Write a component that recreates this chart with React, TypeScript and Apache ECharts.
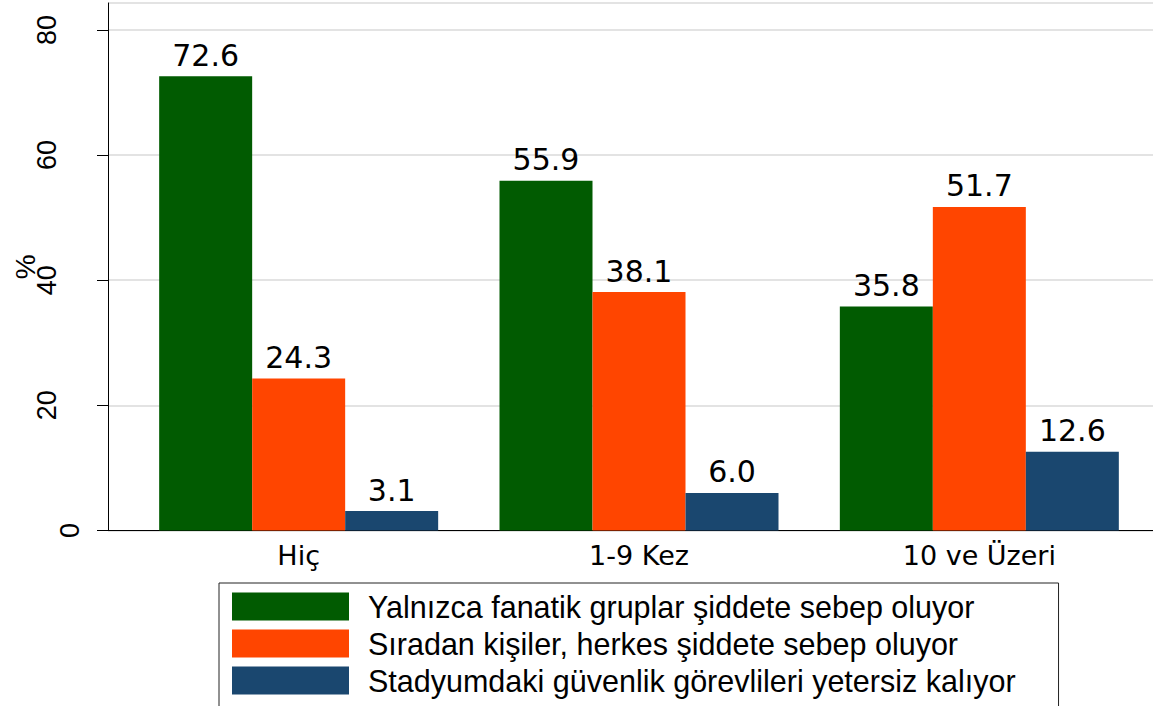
import React, { useEffect, useRef } from "react";
import * as echarts from "echarts";

const categories = ["Hiç", "1-9 Kez", "10 ve Üzeri"];
const seriesNames = [
  "Yalnızca fanatik gruplar şiddete sebep oluyor",
  "Sıradan kişiler, herkes şiddete sebep oluyor",
  "Stadyumdaki güvenlik görevlileri yetersiz kalıyor",
];
const fanaticValues = [72.6, 55.9, 35.8];
const ordinaryValues = [24.3, 38.1, 51.7];
const securityValues = [3.1, 6.0, 12.6];
const seriesColors = ["#015b01", "#ff4500", "#1a476f"];
const yMin = 0;
const yMax = 84.3;
const yInterval = 20;

const FONT = "DejaVu Sans";
const SANS = "Liberation Sans";

export default function App() {
  const ref = useRef<HTMLDivElement>(null);

  useEffect(() => {
    if (!ref.current) return;
    const chart = echarts.init(ref.current, undefined, { renderer: "svg" });
    const values = [fanaticValues, ordinaryValues, securityValues];

    const option: any = {
      animation: false,
      backgroundColor: "#ffffff",
      grid: [
        { left: 108, right: 0, top: 3, bottom: 175.5, containLabel: false, outerBoundsMode: "none" },
        { left: 128.5, right: 3.5, top: 3, bottom: 175.5, containLabel: false, outerBoundsMode: "none" },
      ],
      xAxis: [
        {
          gridIndex: 0,
          type: "value",
          min: 0,
          max: 1,
          axisLine: { show: true, onZero: false, lineStyle: { color: "#000", width: 1 } },
          axisTick: { show: false },
          axisLabel: { show: false },
          splitLine: { show: false },
        },
        {
          gridIndex: 1,
          type: "category",
          data: categories,
          axisLine: { show: false },
          axisTick: { show: false },
          axisLabel: {
            margin: 11,
            color: "#000",
            fontFamily: FONT,
            fontSize: 27,
          },
        },
      ],
      yAxis: [
        {
          gridIndex: 0,
          type: "value",
          min: yMin,
          max: yMax,
          interval: yInterval,
          name: "%",
          nameLocation: "middle",
          nameGap: 69,
          nameMoveOverlap: false,
          nameTextStyle: { color: "#000", fontFamily: SANS, fontSize: 28 },
          axisLine: { show: true, lineStyle: { color: "#000", width: 1 } },
          axisTick: { show: true, length: 11, lineStyle: { color: "#000", width: 1 } },
          axisLabel: {
            rotate: 90,
            margin: 24.5,
            color: "#000",
            fontFamily: SANS,
            fontSize: 27,
            showMaxLabel: false,
            formatter: (v: number) => (v === 0 ? "{z|0}" : "{n|" + v + "}"),
            rich: {
              z: { fontFamily: SANS, fontSize: 27, color: "#000" },
              n: { fontFamily: SANS, fontSize: 27, color: "#000", padding: [0, 0, 23, 0] },
            },
          },
          splitLine: { show: true, lineStyle: { color: "#e3e3e3", width: 2 } },
        },
        {
          gridIndex: 1,
          type: "value",
          min: yMin,
          max: yMax,
          interval: yInterval,
          show: false,
          splitLine: { show: false },
        },
      ],
      legend: {
        orient: "vertical",
        left: 219,
        top: 583,
        height: 200,
        padding: [8, 43, 30, 13],
        borderColor: "#222",
        borderWidth: 1,
        itemWidth: 117,
        itemHeight: 28,
        itemGap: 6,
        icon: "rect",
        selectedMode: false,
        data: seriesNames,
        textStyle: {
          color: "#000",
          fontFamily: SANS,
          fontSize: 30.5,
          lineHeight: 28,
          padding: [0, 0, 0, 14],
        },
      },
      series: seriesNames.map((name, i) => ({
        name,
        type: "bar",
        xAxisIndex: 1,
        yAxisIndex: 1,
        data: values[i],
        barWidth: 93,
        barGap: "0%",
        itemStyle: { color: seriesColors[i] },
        label: {
          show: true,
          position: "top",
          distance: 6,
          color: "#000",
          fontFamily: FONT,
          fontSize: 30,
          formatter: (p: any) => Number(p.value).toFixed(1),
        },
      })),
    };

    chart.setOption(option);
    return () => chart.dispose();
  }, []);

  return (
    <div
      ref={ref}
      style={{ position: "absolute", left: 0, top: 0, width: 1153, height: 706 }}
    />
  );
}
